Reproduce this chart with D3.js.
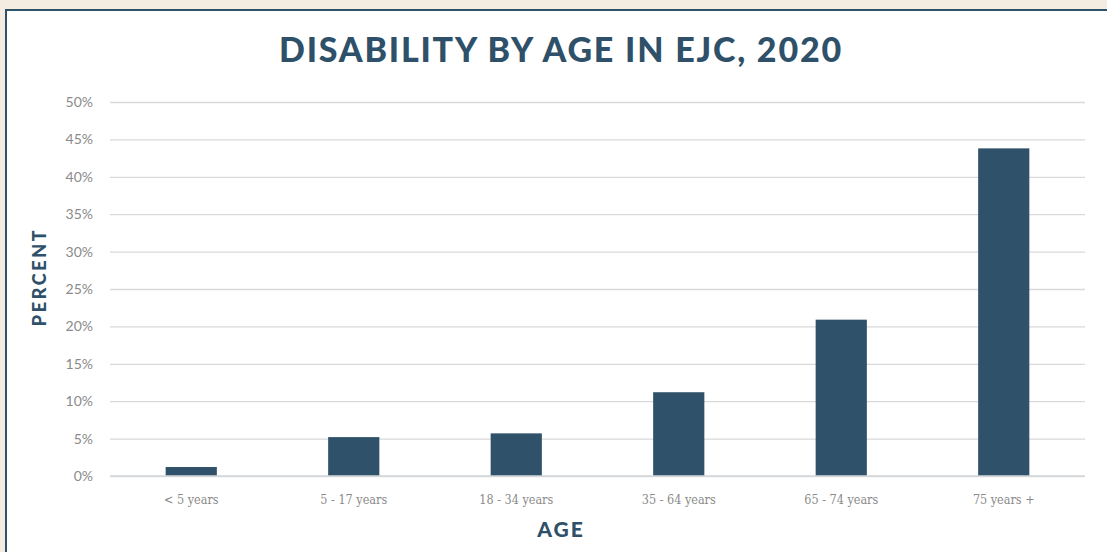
<!DOCTYPE html>
<html>
<head>
<meta charset="utf-8">
<script src="https://cdn.jsdelivr.net/npm/d3@7"></script>
<style>
  html, body { margin: 0; padding: 0; background: #f5ece1; }
  svg { display: block; }
</style>
</head>
<body>
<svg id="chart" width="1107" height="552"></svg>
<script>
// Share of residents with a disability, by age group (EJC, 2020)
const categories = ["< 5 years", "5 - 17 years", "18 - 34 years", "35 - 64 years", "65 - 74 years", "75 years +"];
const values = [1.2, 5.2, 5.7, 11.2, 20.9, 43.8];
const yTicks = [0, 5, 10, 15, 20, 25, 30, 35, 40, 45, 50];

const W = 1107, H = 552;
const navy = "#2e5069";
const svg = d3.select("#chart");

// panel
svg.append("rect").attr("x", 0).attr("y", 0).attr("width", W).attr("height", H).attr("fill", "#f5ece1");
svg.append("rect")
  .attr("x", 6).attr("y", 10).attr("width", W + 10).attr("height", H + 10)
  .attr("fill", "#ffffff").attr("stroke", navy).attr("stroke-width", 2);

const margin = { left: 110, right: 22, top: 102, bottom: 76 };
const x = d3.scaleBand().domain(categories).range([margin.left, W - margin.right]).paddingInner(0).paddingOuter(0);
const y = d3.scaleLinear().domain([0, 50]).range([H - margin.bottom, margin.top]);

// gridlines + y labels
const yAxis = d3.axisLeft(y).tickValues(yTicks).tickSize(-(W - margin.right - margin.left))
  .tickFormat(d => d + "%").tickPadding(17);
const gy = svg.append("g").attr("transform", `translate(${margin.left},0)`).call(yAxis);
gy.select(".domain").remove();
gy.selectAll(".tick line").attr("stroke", "#d9d9d9").attr("stroke-width", 1.3);
gy.selectAll(".tick text")
  .attr("fill", "#8a8a8a").attr("font-family", "Lato, 'Open Sans', sans-serif")
  .attr("font-weight", 400).attr("font-size", 14);

// bars
const barW = x.bandwidth() * 0.315;
svg.append("g").selectAll("rect").data(values).join("rect")
  .attr("x", (d, i) => x(categories[i]) + x.bandwidth() / 2 - barW / 2)
  .attr("y", d => y(d))
  .attr("width", barW)
  .attr("height", d => y(0) - y(d))
  .attr("fill", "#2f5169");

// baseline over the bars
svg.append("line")
  .attr("x1", margin.left).attr("x2", W - margin.right)
  .attr("y1", y(0)).attr("y2", y(0))
  .attr("stroke", "#d3d7da").attr("stroke-width", 1.3);

// x labels
const xAxis = d3.axisBottom(x).tickSize(0).tickPadding(19);
const gx = svg.append("g").attr("transform", `translate(0,${y(0)})`).call(xAxis);
gx.select(".domain").remove();
gx.selectAll(".tick text")
  .attr("fill", "#8a8a8a").attr("font-family", "'DejaVu Serif Condensed', 'Liberation Serif', serif")
  .attr("font-size", 12.5).attr("font-weight", 300);

// title
svg.append("text")
  .attr("x", 561).attr("y", 62)
  .attr("text-anchor", "middle")
  .attr("fill", navy)
  .attr("font-family", "Lato, sans-serif").attr("font-weight", 900)
  .attr("font-size", 34).attr("letter-spacing", 1.8)
  .text("DISABILITY BY AGE IN EJC, 2020");

// axis titles
svg.append("text")
  .attr("transform", "translate(46,277) rotate(-90)")
  .attr("text-anchor", "middle")
  .attr("fill", navy)
  .attr("font-family", "Lato, sans-serif").attr("font-weight", 900)
  .attr("font-size", 18).attr("letter-spacing", 2.6)
  .text("PERCENT");

svg.append("text")
  .attr("x", 561).attr("y", 537)
  .attr("text-anchor", "middle")
  .attr("fill", navy)
  .attr("font-family", "Lato, sans-serif").attr("font-weight", 900)
  .attr("font-size", 21).attr("letter-spacing", 2)
  .text("AGE");
</script>
</body>
</html>
